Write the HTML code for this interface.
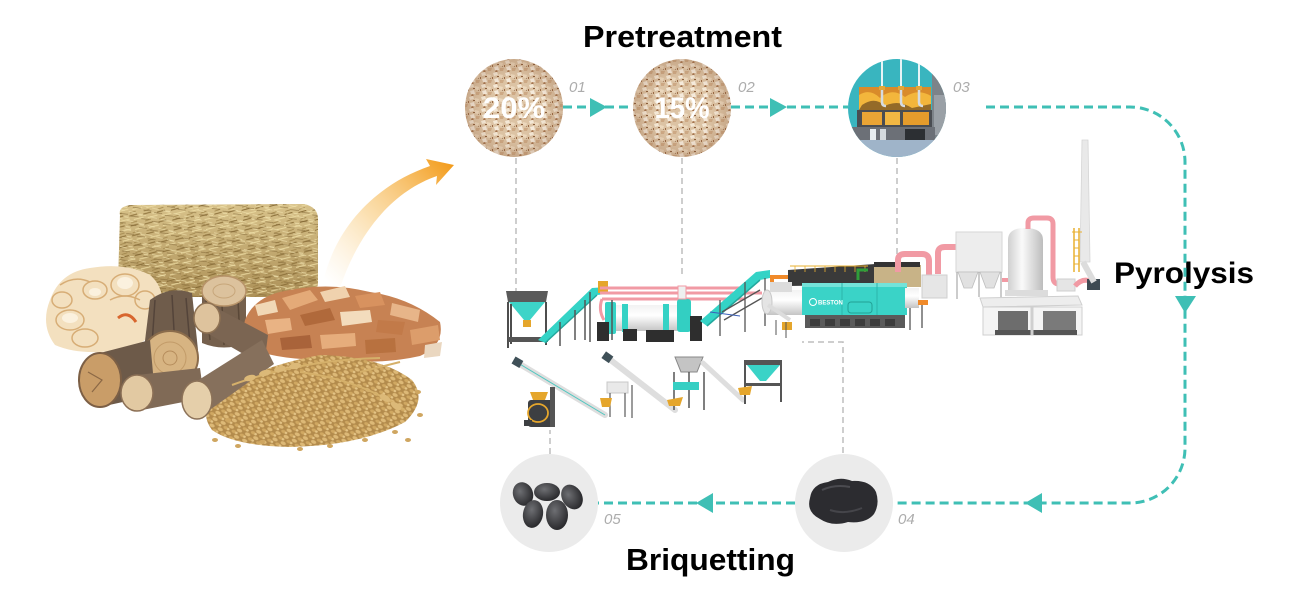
<!DOCTYPE html>
<html><head><meta charset="utf-8"><style>
html,body{margin:0;padding:0;background:#fff;}
svg{display:block;}
text{font-family:"Liberation Sans",Arial,sans-serif;}
</style></head><body>
<svg width="1300" height="600" viewBox="0 0 1300 600" xmlns="http://www.w3.org/2000/svg">
<defs>
  <pattern id="saw" patternUnits="userSpaceOnUse" width="12" height="12">
    <rect width="12" height="12" fill="#dcc3a4"/>
    <polygon points="1,1 5,0 6,3 2,4" fill="#f4e8d6"/>
    <polygon points="7,2 11,3 10,6 6,5" fill="#ecd8bd"/>
    <polygon points="2,7 6,6 7,10 3,10" fill="#f5eadb"/>
    <polygon points="8,8 12,8 11,11 8,11" fill="#cda985"/>
    <polygon points="5,4 7,4 7,5 5,5" fill="#8b5e3c"/>
    <polygon points="0,5 1,5 1,7 0,7" fill="#9a6a46"/>
    <polygon points="10,6 11,6 11,7" fill="#7a4f31"/>
    <polygon points="4,10 6,11 5,12 3,12" fill="#a5744f"/>
  </pattern>
  <radialGradient id="vig" cx="50%" cy="50%" r="50%">
    <stop offset="0.6" stop-color="#8a5a3a" stop-opacity="0"/>
    <stop offset="1" stop-color="#8a5a3a" stop-opacity="0.25"/>
  </radialGradient>
  <pattern id="straw" patternUnits="userSpaceOnUse" width="14" height="10" patternTransform="rotate(-8)">
    <path d="M0 2 L8 1" stroke="#8a6e38" stroke-width="0.9"/>
    <path d="M4 6 L14 5" stroke="#ead9a0" stroke-width="1"/>
    <path d="M1 9 L7 8" stroke="#9d8247" stroke-width="0.8"/>
    <path d="M9 2 L13 3" stroke="#f0e2ad" stroke-width="0.8"/>
  </pattern>
  <pattern id="straw2" patternUnits="userSpaceOnUse" width="11" height="9" patternTransform="rotate(14)">
    <path d="M0 3 L7 3" stroke="#f2e4b0" stroke-width="0.8"/>
    <path d="M3 7 L11 6" stroke="#7f6433" stroke-width="0.7"/>
  </pattern>
  <pattern id="grain" patternUnits="userSpaceOnUse" width="9" height="7" patternTransform="rotate(25)">
    <rect width="9" height="7" fill="#b38b4c"/>
    <ellipse cx="3" cy="2" rx="2.8" ry="1.7" fill="#ddb977"/>
    <ellipse cx="7.5" cy="5.2" rx="2.6" ry="1.6" fill="#d0a862"/>
    <ellipse cx="1" cy="5.5" rx="1.5" ry="1.2" fill="#e4c486"/>
  </pattern>
  <linearGradient id="hayG" x1="0" y1="0" x2="0" y2="1">
    <stop offset="0" stop-color="#d8c28a"/><stop offset="1" stop-color="#ad9158"/>
  </linearGradient>
  <linearGradient id="swoosh" x1="330" y1="285" x2="452" y2="165" gradientUnits="userSpaceOnUse">
    <stop offset="0" stop-color="#fbd9a0" stop-opacity="0"/>
    <stop offset="0.45" stop-color="#f8c670" stop-opacity="0.55"/>
    <stop offset="1" stop-color="#f39c1c" stop-opacity="1"/>
  </linearGradient>
  <linearGradient id="cyl" x1="0" y1="0" x2="0" y2="1">
    <stop offset="0" stop-color="#f2f2f2"/><stop offset="0.4" stop-color="#ffffff"/><stop offset="1" stop-color="#c4c4c4"/>
  </linearGradient>
  <linearGradient id="tankG" x1="0" y1="0" x2="1" y2="0">
    <stop offset="0" stop-color="#cfcfcf"/><stop offset="0.4" stop-color="#fafafa"/><stop offset="1" stop-color="#bdbdbd"/>
  </linearGradient>
  <radialGradient id="coal" cx="40%" cy="35%" r="65%">
    <stop offset="0" stop-color="#6e6f73"/><stop offset="1" stop-color="#2a2a2d"/>
  </radialGradient>
  <clipPath id="c1"><circle cx="514" cy="108" r="49"/></clipPath>
  <clipPath id="c2"><circle cx="682" cy="108" r="49"/></clipPath>
  <clipPath id="c3"><circle cx="897" cy="108" r="49"/></clipPath>
</defs>

<!-- ============ TITLES ============ -->
<text x="583" y="47" font-size="31" font-weight="bold" fill="#000" textLength="199" lengthAdjust="spacingAndGlyphs">Pretreatment</text>
<text x="1114" y="283" font-size="30" font-weight="bold" fill="#000" textLength="140" lengthAdjust="spacingAndGlyphs">Pyrolysis</text>
<text x="626" y="570" font-size="31" font-weight="bold" fill="#000" textLength="169" lengthAdjust="spacingAndGlyphs">Briquetting</text>

<!-- ============ GRAY DASHED LEADERS ============ -->
<g stroke="#bdbdbd" stroke-width="1.5" stroke-dasharray="6 4" fill="none">
  <path d="M516 158 V292"/>
  <path d="M682 158 V277"/>
  <path d="M897 158 V258"/>
  <path d="M843 453 V342 H802"/>
  <path d="M550 454 V430"/>
</g>

<!-- ============ TEAL DASHED FLOW ============ -->
<g stroke="#3fbfb5" stroke-width="3" stroke-dasharray="9 5" fill="none">
  <path d="M563 107 H633"/>
  <path d="M731 107 H848"/>
  <path d="M986 107 H1130 A55 55 0 0 1 1185 162 V448 A55 55 0 0 1 1130 503 H893"/>
  <path d="M795 503 H598"/>
</g>
<g fill="#3fbfb5">
  <polygon points="590,98 607,107 590,117"/>
  <polygon points="770,98 787,107 770,117"/>
  <polygon points="1175,296 1196,296 1185,313"/>
  <polygon points="1042,493 1042,513 1025,503"/>
  <polygon points="713,493 713,513 696,503"/>
</g>

<!-- ============ CIRCLE 1 / 2 (sawdust) ============ -->
<g clip-path="url(#c1)">
  <rect x="460" y="55" width="110" height="110" fill="url(#saw)"/>
  <circle cx="514" cy="108" r="49" fill="url(#vig)"/>
</g>
<text x="514" y="118" font-size="30" font-weight="bold" fill="#fff" text-anchor="middle" textLength="62" lengthAdjust="spacingAndGlyphs">20%</text>
<g clip-path="url(#c2)">
  <rect x="628" y="55" width="110" height="110" fill="url(#saw)" transform="translate(5,3)"/>
  <circle cx="682" cy="108" r="49" fill="url(#vig)"/>
</g>
<text x="682" y="118" font-size="30" font-weight="bold" fill="#fff" text-anchor="middle" textLength="55" lengthAdjust="spacingAndGlyphs">15%</text>

<!-- ============ CIRCLE 3 (furnace) ============ -->
<g clip-path="url(#c3)">
  <rect x="845" y="55" width="105" height="110" fill="#39b5bf"/>
  <rect x="932" y="60" width="18" height="90" fill="#7d8389"/>
  <rect x="934" y="95" width="14" height="40" fill="#9aa0a6"/>
  <g stroke="#e8f4f6" stroke-width="2">
    <path d="M882 58 V88"/><path d="M901 58 V88"/><path d="M919 58 V88"/>
  </g>
  <rect x="859" y="87" width="72" height="23" fill="#d98b2a"/>
  <path d="M859 95 Q870 88 880 98 Q892 87 905 97 Q918 88 931 96 V110 H859Z" fill="#f3b63c"/>
  <path d="M862 105 Q875 96 885 106 Q898 99 912 108 L931 104 V110 H859Z" fill="#6b4a20" opacity="0.7"/>
  <g stroke="#d6dbe0" stroke-width="2.5" fill="none">
    <path d="M882 88 V102 Q882 106 886 106"/><path d="M901 88 V102 Q901 106 905 106"/><path d="M919 88 V102 Q919 106 923 106"/>
  </g>
  <g fill="#e1a83a"><rect x="879" y="86" width="6" height="4"/><rect x="898" y="86" width="6" height="4"/><rect x="916" y="86" width="6" height="4"/></g>
  <rect x="857" y="110" width="75" height="17" fill="#4a4d52"/>
  <rect x="862" y="112" width="20" height="13" fill="#e9a435"/>
  <rect x="885" y="112" width="15" height="13" fill="#f1b743"/>
  <rect x="903" y="112" width="26" height="13" fill="#e59c2c"/>
  <rect x="845" y="127" width="90" height="14" fill="#6c7077"/>
  <rect x="870" y="129" width="6" height="11" fill="#e7ecef"/>
  <rect x="880" y="129" width="6" height="11" fill="#d5dade"/>
  <rect x="905" y="129" width="20" height="11" fill="#2c2f33"/>
  <rect x="845" y="140" width="105" height="20" fill="#9fb4c9"/>
</g>

<!-- step labels -->
<g font-size="15" font-style="italic" fill="#acacac">
  <text x="569" y="92">01</text>
  <text x="738" y="92">02</text>
  <text x="953" y="92">03</text>
  <text x="898" y="524">04</text>
  <text x="604" y="524">05</text>
</g>

<!-- ============ CIRCLE 4 / 5 ============ -->
<circle cx="844" cy="503" r="49" fill="#ebebeb"/>
<path d="M810 498 Q812 484 828 482 Q840 476 852 481 Q870 480 876 492 Q880 504 874 514 Q866 524 848 522 Q832 527 820 519 Q806 512 810 498Z" fill="#2c2c30"/>
<path d="M822 490 Q835 484 850 487" stroke="#4b4b50" stroke-width="2" fill="none"/>
<path d="M830 510 Q845 515 862 508" stroke="#45454a" stroke-width="2" fill="none"/>

<circle cx="549" cy="503" r="49" fill="#ebebeb"/>
<g fill="url(#coal)">
  <ellipse cx="523" cy="494" rx="10" ry="12" transform="rotate(-20 523 494)"/>
  <ellipse cx="547" cy="492" rx="13" ry="9"/>
  <ellipse cx="572" cy="497" rx="10" ry="13" transform="rotate(-30 572 497)"/>
  <ellipse cx="533" cy="514" rx="10" ry="14" transform="rotate(10 533 514)"/>
  <ellipse cx="557" cy="515" rx="11" ry="15"/>
</g>

<!-- ============ ORANGE SWOOSH ============ -->
<path d="M322 288 C332 232 372 186 430 166 L426 159 L454 165 L436 185 L437 176 C396 190 360 228 340 288 Z" fill="url(#swoosh)"/>

<!-- ============ BIOMASS PILE ============ -->
<!-- hay bale -->
<path d="M120 215 Q118 206 132 205 L304 204 Q318 207 318 219 L318 284 Q316 297 300 297 L136 297 Q118 295 118 283 Z" fill="url(#hayG)"/>
<path d="M120 215 Q118 206 132 205 L304 204 Q318 207 318 219 L318 284 Q316 297 300 297 L136 297 Q118 295 118 283 Z" fill="url(#straw)"/>
<path d="M120 215 Q118 206 132 205 L304 204 Q318 207 318 219 L318 284 Q316 297 300 297 L136 297 Q118 295 118 283 Z" fill="url(#straw2)" opacity="0.7"/>

<!-- shavings -->
<path d="M50 300 Q60 272 90 268 Q125 262 150 275 Q168 290 160 320 Q150 345 120 350 Q80 356 55 345 Q40 325 50 300Z" fill="#f3e0bf"/>
<g fill="none" stroke="#d7ad76" stroke-width="1.5">
  <ellipse cx="70" cy="320" rx="14" ry="10"/>
  <ellipse cx="95" cy="290" rx="12" ry="9"/>
  <ellipse cx="125" cy="285" rx="14" ry="11"/>
  <ellipse cx="62" cy="300" rx="10" ry="8"/>
  <ellipse cx="145" cy="300" rx="10" ry="9"/>
  <ellipse cx="85" cy="338" rx="13" ry="9"/>
  <path d="M60 285 Q75 275 90 282"/>
  <path d="M110 300 Q125 292 140 300"/>
</g>
<g fill="#fbf1de">
  <ellipse cx="70" cy="318" rx="8" ry="5"/><ellipse cx="125" cy="283" rx="8" ry="6"/><ellipse cx="95" cy="292" rx="6" ry="4"/>
</g>
<path d="M118 318 Q128 310 136 322" stroke="#d8662e" stroke-width="3" fill="none"/>

<!-- log D (vertical) -->
<path d="M202 291 L202 343 Q224 352 246 343 L246 291 Z" fill="#75604d"/>
<path d="M206 300 L210 340 M222 305 L224 345 M238 300 L240 340" stroke="#5a4838" stroke-width="1.5"/>
<ellipse cx="224" cy="291" rx="22" ry="15" fill="#dcc29d" stroke="#b8946a" stroke-width="1.5"/>
<ellipse cx="224" cy="291" rx="11" ry="7" fill="none" stroke="#c7a67a"/>

<!-- wood chips -->
<path d="M245 320 Q255 295 290 290 Q330 282 370 292 Q410 298 440 322 Q445 345 420 356 Q380 365 330 360 Q280 360 255 350 Q240 338 245 320Z" fill="#c78253"/>
<g>
  <polygon points="282,298 310,290 318,300 290,310" fill="#e4aa78"/>
  <polygon points="320,292 345,286 350,297 325,302" fill="#f0d2ae"/>
  <polygon points="355,296 380,292 385,305 360,308" fill="#d8925f"/>
  <polygon points="392,303 420,310 418,322 390,315" fill="#e7b589"/>
  <polygon points="300,315 330,308 335,320 305,326" fill="#b0693b"/>
  <polygon points="340,312 370,310 372,322 342,326" fill="#f3dcbd"/>
  <polygon points="378,320 405,322 402,335 376,332" fill="#c27a49"/>
  <polygon points="265,320 290,318 292,330 268,334" fill="#e9b384"/>
  <polygon points="410,330 438,325 440,340 412,345" fill="#dc9d6b"/>
  <polygon points="280,338 310,335 312,348 282,350" fill="#a9633a"/>
  <polygon points="320,335 355,333 356,346 322,349" fill="#e6ad7c"/>
  <polygon points="365,340 395,338 396,352 366,354" fill="#b8713f"/>
  <polygon points="255,305 275,300 278,312 258,316" fill="#f1d8b6"/>
  <polygon points="425,345 442,342 440,356 424,358" fill="#ead7c0"/>
</g>

<!-- log B (big, angled back) -->
<path d="M143 357 L150 300 Q170 285 192 293 L198 350 Z" fill="#6f5c4b"/>
<path d="M155 300 L152 345 M172 295 L175 348 M186 298 L190 345" stroke="#54443a" stroke-width="1.5"/>
<ellipse cx="170" cy="358" rx="28" ry="27" fill="#d7b482" stroke="#8b6c4b" stroke-width="2"/>
<circle cx="170" cy="358" r="16" fill="none" stroke="#c29b68"/>
<circle cx="170" cy="358" r="7" fill="none" stroke="#b68d5c"/>

<!-- log E -->
<path d="M207 303 L268 335 L264 366 L207 333 Z" fill="#7b6552"/>
<ellipse cx="207" cy="318" rx="13" ry="15" fill="#dec39d" stroke="#8f7253" stroke-width="1.5"/>

<!-- log A -->
<path d="M100 353 L150 340 L155 395 L100 407 Z" fill="#6d5a49"/>
<ellipse cx="100" cy="380" rx="21" ry="27" fill="#c99d68" stroke="#7c5f45" stroke-width="2"/>
<path d="M88 372 L102 380 L92 392" stroke="#8b6845" stroke-width="1.2" fill="none"/>

<!-- log C -->
<path d="M137 375 L200 368 L204 398 L137 411 Z" fill="#806a56"/>
<ellipse cx="137" cy="393" rx="16" ry="18" fill="#e2c9a2" stroke="#8c7056" stroke-width="1.5"/>

<!-- grains -->
<path d="M212 398 Q250 368 320 355 Q380 356 412 380 Q428 400 405 422 Q360 446 290 447 Q235 446 212 430 Q200 414 212 398Z" fill="url(#grain)"/>
<g fill="#cfa660">
  <ellipse cx="215" cy="440" rx="3" ry="2"/><ellipse cx="238" cy="446" rx="3" ry="2"/><ellipse cx="262" cy="442" rx="3" ry="2"/>
  <ellipse cx="330" cy="446" rx="3" ry="2"/><ellipse cx="365" cy="440" rx="3" ry="2"/><ellipse cx="395" cy="432" rx="3" ry="2"/>
  <ellipse cx="420" cy="415" rx="3" ry="2"/><ellipse cx="418" cy="392" rx="3" ry="2"/><ellipse cx="228" cy="420" rx="3" ry="2"/>
  <ellipse cx="300" cy="449" rx="3" ry="2"/><ellipse cx="408" cy="440" rx="3" ry="2"/>
</g>

<!-- log F -->
<path d="M197 381 L262 340 L274 364 L197 419 Z" fill="#86705c"/>
<ellipse cx="197" cy="400" rx="15" ry="19" fill="#e5cfaa" stroke="#8c7258" stroke-width="1.5"/>

<!-- wheat ears -->
<g stroke="#d5b06a" stroke-width="2" fill="none">
  <path d="M232 385 Q300 360 380 358"/>
  <path d="M300 372 Q360 380 405 410"/>
  <path d="M360 372 L400 362"/>
</g>
<g fill="#dcb978">
  <ellipse cx="250" cy="378" rx="6" ry="3" transform="rotate(-15 250 378)"/>
  <ellipse cx="265" cy="373" rx="6" ry="3" transform="rotate(-15 265 373)"/>
  <ellipse cx="280" cy="369" rx="6" ry="3" transform="rotate(-12 280 369)"/>
  <ellipse cx="295" cy="366" rx="6" ry="3" transform="rotate(-10 295 366)"/>
  <ellipse cx="385" cy="398" rx="6" ry="3" transform="rotate(30 385 398)"/>
  <ellipse cx="396" cy="406" rx="6" ry="3" transform="rotate(35 396 406)"/>
</g>

<!-- ============ UPPER MACHINERY ============ -->
<!-- hopper 1 -->
<polygon points="506,291 548,291 546,302 508,302" fill="#5a5a5a"/>
<polygon points="509,302 545,302 530,320 524,320" fill="#3dd4c8"/>
<rect x="523" y="320" width="8" height="7" fill="#e5a62c"/>
<g stroke="#4e4e4e" stroke-width="2">
  <path d="M508 302 V348"/><path d="M546 302 V345"/><path d="M511 304 V344"/>
</g>
<rect x="508" y="337" width="40" height="5" fill="#555"/>
<!-- conveyor 1 -->
<polygon points="538,340 592,288 607,287 607,294 597,295 546,343" fill="#34d3c6"/>
<path d="M545 343 L597 295" stroke="#24a89d" stroke-width="1.5"/>
<g stroke="#555" stroke-width="1.5">
  <path d="M560 322 V346"/><path d="M585 300 V340"/><path d="M575 310 V340"/>
</g>
<rect x="598" y="281" width="10" height="12" fill="#e5a62c"/>
<!-- pink pipes -->
<g stroke="#f19aa4" stroke-width="3" fill="none">
  <path d="M600 288 H748"/>
  <path d="M600 293 H762"/>
  <path d="M602 299 H745"/>
  <path d="M602 299 Q598 310 604 320"/>
</g>
<!-- dryer -->
<rect x="612" y="305" width="68" height="26" rx="3" fill="url(#cyl)"/>
<rect x="605" y="302" width="11" height="32" rx="2" fill="#35d2c5"/>
<rect x="622" y="304" width="6" height="28" fill="#35d2c5"/>
<rect x="663" y="304" width="6" height="28" fill="#35d2c5"/>
<rect x="677" y="299" width="14" height="33" rx="3" fill="#33cfc2"/>
<rect x="678" y="286" width="8" height="13" fill="#eef0f0" stroke="#f19aa4"/>
<g fill="#2e2e2e">
  <rect x="597" y="322" width="12" height="19"/>
  <rect x="623" y="329" width="14" height="12"/>
  <rect x="646" y="330" width="28" height="12"/>
  <rect x="690" y="316" width="12" height="25"/>
</g>
<g stroke="#555" stroke-width="1.5"><path d="M612 300 V340"/><path d="M590 292 V342"/></g>
<!-- conveyor 2 -->
<polygon points="700,321 756,272 770,270 770,278 760,280 707,326" fill="#34d3c6"/>
<path d="M707 326 L760 280" stroke="#24a89d" stroke-width="1.5"/>
<g stroke="#555" stroke-width="1.3">
  <path d="M720 300 V336"/><path d="M745 282 V332"/><path d="M765 278 V326"/>
  <path d="M722 312 L760 290"/><path d="M724 320 L762 298"/>
</g>
<path d="M710 312 L740 316" stroke="#3a5fb8" stroke-width="1"/>
<!-- orange pipes -->
<path d="M772 292 V277 H790 V284" stroke="#f08a2a" stroke-width="4" fill="none"/>
<path d="M790 292 V300" stroke="#f08a2a" stroke-width="4"/>
<!-- dark platform with railing -->
<polygon points="788,270 905,262 920,268 920,284 788,286" fill="#3a3a3a"/>
<path d="M790 266 H868" stroke="#e9b030" stroke-width="1"/>
<g stroke="#e9b030" stroke-width="0.8"><path d="M795 266 V272 M805 266 V272 M815 266 V272 M825 266 V272 M835 266 V272 M845 266 V272 M855 266 V272 M865 266 V272"/></g>
<path d="M858 280 V270 H868" stroke="#2f9e3a" stroke-width="3" fill="none"/>
<!-- straw box -->
<rect x="874" y="265" width="47" height="22" fill="#c8b387"/>
<rect x="874" y="262" width="46" height="5" fill="#333"/>
<!-- white cylinder left of reactor -->
<rect x="767" y="290" width="40" height="25" fill="url(#cyl)"/>
<ellipse cx="767" cy="302" rx="5" ry="12" fill="#e4e4e4" stroke="#c8c8c8"/>
<rect x="770" y="282" width="22" height="10" fill="#dcdcdc"/>
<!-- reactor -->
<rect x="802" y="283" width="105" height="32" fill="#3ad3c7"/>
<rect x="802" y="283" width="105" height="4" fill="#74e3d9"/>
<path d="M842 283 V315 M877 283 V315" stroke="#2cb6ab" stroke-width="1"/>
<circle cx="813" cy="302" r="3.5" fill="none" stroke="#fff" stroke-width="1"/>
<text x="818" y="304.5" font-size="6" font-weight="bold" fill="#fff">BESTON</text>
<rect x="848" y="302" width="24" height="11" rx="3" fill="none" stroke="#22a196"/>
<rect x="805" y="315" width="100" height="13" fill="#5a5a5a"/>
<g fill="#3c3c3c"><rect x="810" y="319" width="10" height="7"/><rect x="825" y="319" width="10" height="7"/><rect x="840" y="319" width="10" height="7"/><rect x="855" y="319" width="10" height="7"/><rect x="870" y="319" width="10" height="7"/><rect x="885" y="319" width="10" height="7"/></g>
<rect x="905" y="288" width="14" height="20" fill="url(#cyl)"/>
<rect x="918" y="300" width="10" height="5" fill="#f08a2a"/>
<g stroke="#555" stroke-width="1.3"><path d="M910 308 V330 M922 305 V328"/></g>
<!-- pink pipe A + gray box -->
<path d="M898 272 V260 Q898 254 905 254 H922 Q929 254 929 261 V276" stroke="#f19aa4" stroke-width="6" fill="none"/>
<rect x="922" y="275" width="25" height="23" fill="#e6e6e6" stroke="#cfcfcf"/>
<!-- pink pipe B -->
<path d="M938 274 V253 Q938 247 945 247 H962" stroke="#f19aa4" stroke-width="6" fill="none"/>
<!-- dust collector -->
<rect x="956" y="232" width="46" height="40" fill="#ededed" stroke="#d6d6d6"/>
<polygon points="958,272 978,272 972,288 964,288" fill="#e1e1e1" stroke="#bdbdbd" stroke-width="0.8"/>
<polygon points="980,272 1000,272 994,288 986,288" fill="#e1e1e1" stroke="#bdbdbd" stroke-width="0.8"/>
<g stroke="#aaa" stroke-width="1.2"><path d="M957 272 V299 M1001 272 V299 M979 272 V297"/></g>
<path d="M1002 280 H1010" stroke="#f19aa4" stroke-width="4"/>
<!-- tank -->
<path d="M1008 293 V240 Q1008 228 1025 228 Q1043 228 1043 240 V293 Z" fill="url(#tankG)"/>
<rect x="1005" y="290" width="43" height="6" fill="#dcdcdc"/>
<path d="M1028 229 V223 Q1028 218 1034 218 H1047 Q1053 218 1053 224 V277 Q1053 284 1059 284" stroke="#f19aa4" stroke-width="5" fill="none"/>
<rect x="1057" y="279" width="18" height="12" fill="#e5e5e5" stroke="#cfcfcf"/>
<path d="M1075 286 Q1082 278 1090 281" stroke="#f19aa4" stroke-width="5" fill="none"/>
<rect x="1087" y="279" width="13" height="11" fill="#3e4a52"/>
<!-- chimney -->
<polygon points="1082,140 1088,140 1090,262 1080,262" fill="#e9e9e9" stroke="#d5d5d5" stroke-width="0.8"/>
<path d="M1083 262 L1094 282" stroke="#dcdcdc" stroke-width="6"/>
<g stroke="#e9b030" stroke-width="1.5"><path d="M1074 228 V272 M1079 228 V272"/></g>
<g stroke="#e9b030" stroke-width="1"><path d="M1072 232 H1082 M1074 240 H1079 M1074 248 H1079 M1074 256 H1079 M1074 264 H1079"/></g>
<!-- container -->
<polygon points="980,298 1078,296 1082,305 983,307" fill="#ededed" stroke="#cfcfcf"/>
<rect x="983" y="307" width="99" height="28" fill="#f4f4f4" stroke="#cfcfcf"/>
<rect x="998" y="311" width="30" height="22" fill="#6d6d6d"/>
<rect x="1043" y="311" width="33" height="22" fill="#7a7a7a"/>
<rect x="995" y="330" width="82" height="5" fill="#555"/>
<path d="M1032 307 V335" stroke="#cfcfcf" stroke-width="3"/>

<!-- ============ LOWER MACHINERY ============ -->
<!-- screw conveyor 1 -->
<path d="M518 363 L605 415" stroke="#dedede" stroke-width="6" stroke-linecap="round"/>
<path d="M518 363 L605 415" stroke="#4fc7c0" stroke-width="1"/>
<rect x="513" y="358" width="9" height="8" fill="#3f5058" transform="rotate(30 517 362)"/>
<!-- briquette machine -->
<rect x="528" y="400" width="25" height="27" rx="3" fill="#3d3f42"/>
<ellipse cx="538" cy="413" rx="10" ry="9" fill="none" stroke="#e5a62c" stroke-width="1.8"/>
<polygon points="530,392 548,392 545,400 533,400" fill="#e5a62c"/>
<rect x="550" y="387" width="5" height="40" fill="#555"/>
<rect x="524" y="420" width="8" height="6" fill="#3d3f42"/>
<!-- mixer -->
<rect x="607" y="382" width="21" height="11" fill="#e9e9e9" stroke="#c8c8c8"/>
<g stroke="#666" stroke-width="1.3"><path d="M610 393 V417 M625 393 V417 M632 385 V418"/></g>
<polygon points="600,398 612,398 610,407 602,407" fill="#e5a62c"/>
<!-- screw conveyor 2 -->
<path d="M608 358 L675 410" stroke="#dedede" stroke-width="6" stroke-linecap="round"/>
<rect x="603" y="353" width="9" height="8" fill="#3f5058" transform="rotate(35 607 357)"/>
<!-- bin -->
<polygon points="675,357 703,357 697,372 681,372" fill="#c4c4c4" stroke="#888"/>
<g stroke="#555" stroke-width="1.5"><path d="M674 372 V410 M704 372 V410 M689 372 V408"/></g>
<rect x="673" y="382" width="26" height="8" fill="#36cfc3"/>
<polygon points="667,400 683,397 680,406 669,406" fill="#e5a62c"/>
<!-- conveyor 3 -->
<path d="M703 363 L743 400" stroke="#dedede" stroke-width="5" stroke-linecap="round"/>
<!-- final hopper -->
<rect x="744" y="360" width="38" height="5" fill="#555"/>
<polygon points="747,365 780,365 766,381 760,381" fill="#3ad3c7"/>
<g stroke="#555" stroke-width="2"><path d="M745 362 V404 M781 362 V402"/></g>
<rect x="745" y="383" width="36" height="3" fill="#555"/>
<polygon points="738,388 752,386 750,395 740,395" fill="#e5a62c"/>
<!-- small machines under reactor -->
<path d="M768 305 L790 320" stroke="#dcdcdc" stroke-width="4"/>
<rect x="782" y="322" width="10" height="8" fill="#e5a62c"/>
<g stroke="#555" stroke-width="1"><path d="M776 320 V335 M786 322 V338"/></g>
</svg>
</body></html>
